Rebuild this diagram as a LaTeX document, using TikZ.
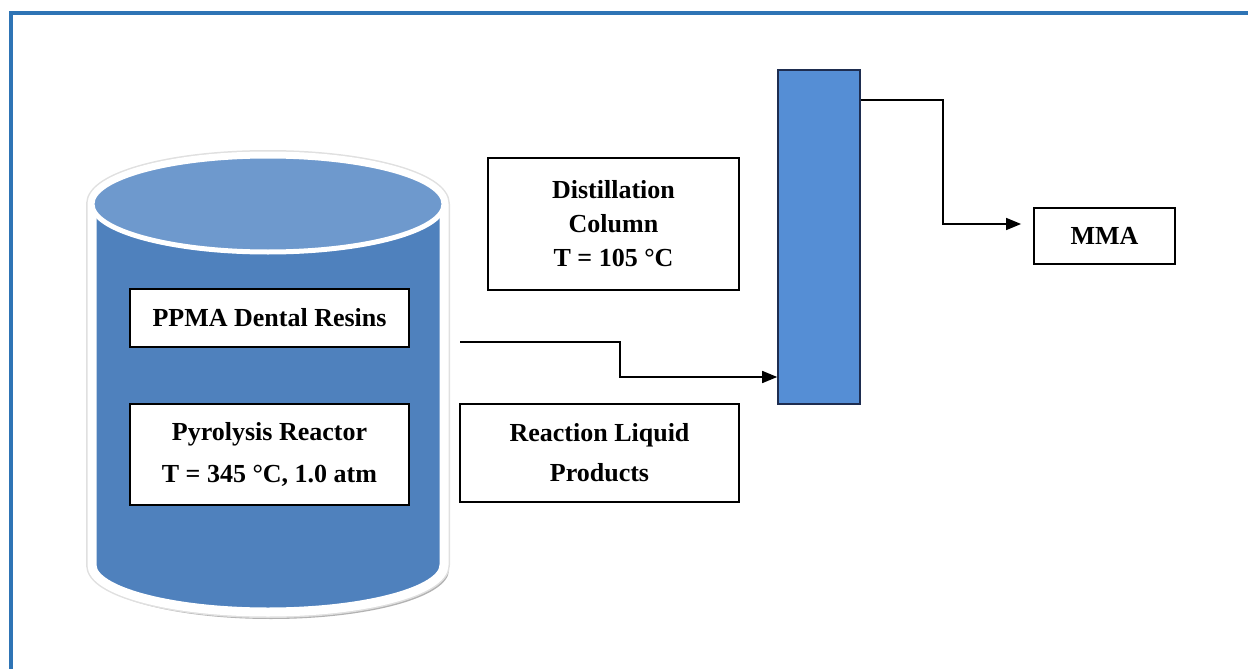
\documentclass[tikz,border=0pt]{standalone}
\usepackage{fontspec}
\setmainfont{Liberation Serif}
\usetikzlibrary{arrows.meta,positioning}

\definecolor{framecol}{RGB}{46,116,181}
\definecolor{bodycol}{RGB}{79,129,189}
\definecolor{topcol}{RGB}{110,153,205}
\definecolor{colfill}{RGB}{85,142,213}
\definecolor{colline}{RGB}{30,45,80}

\begin{document}
\begin{tikzpicture}[
    x=1pt, y=-1pt,
    box/.style={rectangle, draw=black, line width=1.8pt, fill=white, align=center, font=\bfseries\fontsize{26}{42}\selectfont},
    column/.style={rectangle, draw=colline, line width=1.6pt, fill=colfill, minimum width=82pt, minimum height=334pt},
    flow/.style={-{Triangle[length=15pt,width=12pt]}, line width=1.6pt}
]
\useasboundingbox (0,0) rectangle (1248,669);

% Frame
\draw [framecol, line width=4pt] (1248,13) -- (11,13) -- (11,669);

% Reactor vessel
\fill [black!30] (271,570) ellipse [x radius=178pt, y radius=49pt];
\draw [black!12, line width=12pt, line join=round] (92,204) -- (92,565) arc [start angle=180, end angle=360, x radius=176pt, y radius=47pt] -- (444,204) arc [start angle=0, end angle=180, x radius=176pt, y radius=48pt] -- cycle;
\draw [white, line width=9pt, line join=round, fill=bodycol] (92,204) -- (92,565) arc [start angle=180, end angle=360, x radius=176pt, y radius=47pt] -- (444,204) arc [start angle=0, end angle=180, x radius=176pt, y radius=48pt] -- cycle;
\draw [white, line width=5pt, fill=topcol] (268,204) ellipse [x radius=176pt, y radius=48pt];

% Reactor labels
\node [box, minimum width=279pt, minimum height=58pt] (resin) at (269.5,318) {PPMA Dental Resins};
\node [box, minimum width=279pt, minimum height=101pt] (reactor) at (269.5,454.5) {Pyrolysis Reactor\\T = 345 °C, 1.0 atm};

% Column
\node [column] (still) at (819,237) {};
\node [box, minimum width=251pt, minimum height=132pt, font=\bfseries\fontsize{26}{34}\selectfont] (distill) at (613.5,224) {Distillation\\Column\\T = 105 °C};
\node [box, minimum width=279pt, minimum height=98pt, font=\bfseries\fontsize{26}{40}\selectfont] (liquid) at (599.5,453) {Reaction Liquid\\Products};

% Product
\node [box, minimum width=141pt, minimum height=56pt] (mma) at (1104.5,236) {MMA};

% Arrows
\coordinate (liqout) at (460,342);
\draw [flow] (liqout) -- ++(160,0) |- ([yshift=-140pt]still.west);
\draw [flow] ([yshift=137pt]still.east) -- ++(82,0) |- ([xshift=-12pt,yshift=12pt]mma.west);

\end{tikzpicture}
\end{document}
